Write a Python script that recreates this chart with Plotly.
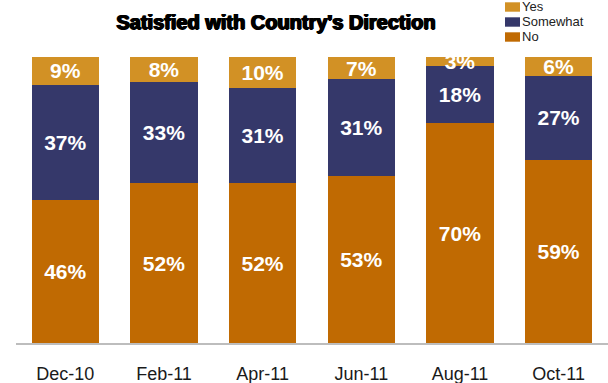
import plotly.graph_objects as go

# Survey results by wave (percent of respondents)
categories = ["Dec-10", "Feb-11", "Apr-11", "Jun-11", "Aug-11", "Oct-11"]
no_vals = [46, 52, 52, 53, 70, 59]
somewhat_vals = [37, 33, 31, 31, 18, 27]
yes_vals = [9, 8, 10, 7, 3, 6]

series = [("No", no_vals), ("Somewhat", somewhat_vals), ("Yes", yes_vals)]
legend_order = ["Yes", "Somewhat", "No"]
colors = {"No": "#C06A02", "Somewhat": "#35386A", "Yes": "#D29125"}

W, H = 608, 383
L, R, T, B = 16, 0, 57, 40
FONT = "Liberation Sans, Arial, sans-serif"


def px_to_paper_x(px):
    return (px - L) / (W - L - R)


def px_to_paper_y(py):
    return (H - B - py) / (H - T - B)


fig = go.Figure()
for name, vals in series:
    fig.add_trace(go.Bar(
        x=categories,
        y=vals,
        name=name,
        marker=dict(color=colors[name], line=dict(width=0)),
        text=[f"{v}%" for v in vals],
        textposition="inside",
        insidetextanchor="middle",
        textangle=0,
        textfont=dict(family=FONT, size=21, color="white", weight="bold"),
        cliponaxis=True,
        showlegend=False,
        hoverinfo="skip",
    ))

# Legend drawn as swatches and labels in the top-right corner
shapes = []
annotations = []
for i, name in enumerate(legend_order):
    cy = 7 + i * 15
    shapes.append(dict(
        type="rect", xref="paper", yref="paper",
        x0=px_to_paper_x(505), x1=px_to_paper_x(520),
        y0=px_to_paper_y(cy + 4.7), y1=px_to_paper_y(cy - 4.7),
        fillcolor=colors[name], line=dict(width=0),
    ))
    annotations.append(dict(
        xref="paper", yref="paper",
        x=px_to_paper_x(520), y=px_to_paper_y(cy - 1),
        xanchor="left", yanchor="middle",
        text=name, showarrow=False,
        font=dict(family=FONT, size=13, color="#222222"),
    ))

fig.update_layout(
    width=W, height=H,
    margin=dict(l=L, r=R, t=T, b=B, pad=0),
    barmode="stack",
    barnorm="percent",
    bargap=0.32,
    paper_bgcolor="white",
    plot_bgcolor="white",
    uniformtext=dict(minsize=21, mode="show"),
    title=dict(
        text="Satisfied with Country's Direction",
        xref="container", yref="container",
        x=276 / W, y=1 - 22 / H,
        xanchor="center", yanchor="middle",
        font=dict(family=FONT, size=20, color="black", weight="bold",
                  shadow="0.9px 0px 0px #000, -0.9px 0px 0px #000, 0px 0.5px 0px #000"),
    ),
    xaxis=dict(
        range=[-0.5, 5.5],
        showline=True, linecolor="#BDBDBD", linewidth=1.5,
        ticks="", showgrid=False, zeroline=False,
        ticklabelstandoff=14,
        tickfont=dict(family=FONT, size=18, color="#1a1a1a"),
        fixedrange=True,
    ),
    yaxis=dict(range=[0, 100], visible=False, fixedrange=True),
    shapes=shapes,
    annotations=annotations,
    showlegend=False,
)

fig.write_html("out.html")
